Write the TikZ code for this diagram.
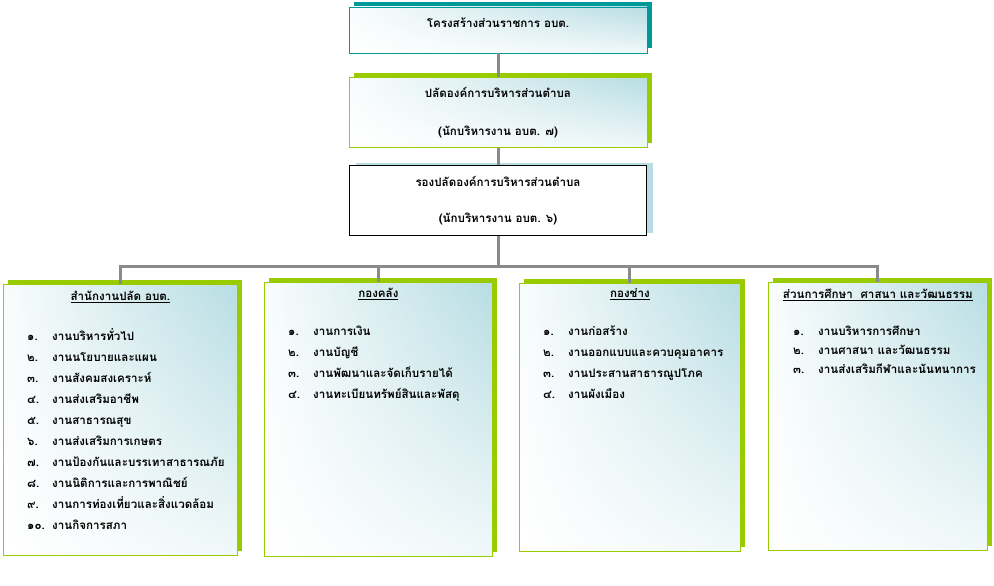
\documentclass[tikz,border=0pt]{standalone}
\usepackage{fontspec}
\newfontfamily\thaifont[Script=Thai]{Loma}
\usetikzlibrary{positioning,shadows,shadings}

\definecolor{tealshade}{HTML}{009999}
\definecolor{limegreen}{HTML}{99CC00}
\definecolor{paleblue}{HTML}{B7DDE3}
\definecolor{linegray}{HTML}{8A8A8A}

\newcommand{\job}[2]{\makebox[25pt][l]{#1}#2}

\begin{document}
\begin{tikzpicture}[
		x=1pt, y=-1pt,
		font=\thaifont\bfseries\fontsize{11.6}{21}\selectfont,
		fadefill/.style={upper right=paleblue, upper left=white!92!paleblue,
			lower left=white, lower right=white!80!paleblue},
		headbox/.style={draw, line width=0.8pt, inner sep=0pt,
			align=center, minimum width=298pt, minimum height=70pt},
		unitbox/.style={draw=limegreen, line width=0.8pt, inner sep=0pt,
			anchor=north west, fadefill,
			general shadow={shadow xshift=5pt, shadow yshift=4pt, fill=limegreen}},
		unithead/.style={inner sep=0pt},
		joblist/.style={inner sep=0pt, align=left, anchor=north west},
		connector/.style={draw=linegray, line width=3pt},
		]
		\useasboundingbox (0,0) rectangle (994,586);
		
		% top of the chart
		\node[headbox, draw=tealshade, fadefill, minimum height=46pt, text depth=14pt,
			general shadow={shadow xshift=5pt, shadow yshift=5pt, fill=tealshade}]
			(t1) at (498,30) {โครงสร้างส่วนราชการ อบต.};
		\node[headbox, draw=limegreen, fadefill, below=24pt of t1,
			general shadow={shadow xshift=5pt, shadow yshift=5pt, fill=limegreen}]
			(t2) {ปลัดองค์การบริหารส่วนตำบล\\[17pt](นักบริหารงาน อบต. ๗)};
		\node[headbox, draw=black, fill=white, minimum width=297pt, below=17pt of t2,
			general shadow={shadow xshift=6pt, shadow yshift=3pt, fill=paleblue}]
			(t3) {รองปลัดองค์การบริหารส่วนตำบล\\[15pt](นักบริหารงาน อบต. ๖)};
		
		% the four units
		\node[unitbox, minimum width=234pt, minimum height=271pt] (kA) at (3,284) {};
		\node[unitbox, minimum width=228pt, minimum height=274pt] (kB) at (264,282) {};
		\node[unitbox, minimum width=221pt, minimum height=268pt] (kC) at (519,283) {};
		\node[unitbox, minimum width=219pt, minimum height=268pt] (kD) at (768,282) {};
		
		\node[unithead] (hA) at ([shift={(0,13)}]kA.north) {\underline{สำนักงานปลัด อบต.}};
		\node[unithead] (hB) at ([shift={(0,12)}]kB.north) {\underline{กองคลัง}};
		\node[unithead] (hC) at ([shift={(0,11)}]kC.north) {\underline{กองช่าง}};
		\node[unithead] (hD) at ([shift={(0,13)}]kD.north) {\underline{ส่วนการศึกษา~~ศาสนา และวัฒนธรรม}};
		
		\node[joblist] (lA) at ([shift={(24,44)}]kA.north west)
		{\job{๑.}{งานบริหารทั่วไป}\\
			\job{๒.}{งานนโยบายและแผน}\\
			\job{๓.}{งานสังคมสงเคราะห์}\\
			\job{๔.}{งานส่งเสริมอาชีพ}\\
			\job{๕.}{งานสาธารณสุข}\\
			\job{๖.}{งานส่งเสริมการเกษตร}\\
			\job{๗.}{งานป้องกันและบรรเทาสาธารณภัย}\\
			\job{๘.}{งานนิติการและการพาณิชย์}\\
			\job{๙.}{งานการท่องเที่ยวและสิ่งแวดล้อม}\\
			\job{๑๐.}{งานกิจการสภา}};
		\node[joblist] (lB) at ([shift={(24,44)}]kB.north west)
		{\job{๑.}{งานการเงิน}\\
			\job{๒.}{งานบัญชี}\\
			\job{๓.}{งานพัฒนาและจัดเก็บรายได้}\\
			\job{๔.}{งานทะเบียนทรัพย์สินและพัสดุ}};
		\node[joblist] (lC) at ([shift={(24,43)}]kC.north west)
		{\job{๑.}{งานก่อสร้าง}\\
			\job{๒.}{งานออกแบบและควบคุมอาคาร}\\
			\job{๓.}{งานประสานสาธารณูปโภค}\\
			\job{๔.}{งานผังเมือง}};
		\node[joblist, font=\thaifont\bfseries\fontsize{11.6}{19}\selectfont]
		(lD) at ([shift={(25,44)}]kD.north west)
		{\job{๑.}{งานบริหารการศึกษา}\\
			\job{๒.}{งานศาสนา และวัฒนธรรม}\\
			\job{๓.}{งานส่งเสริมกีฬาและนันทนาการ}};
		
		% connectors
		\coordinate (bus) at (498,266);
		\draw[connector] (t1) -- (t2);
		\draw[connector] (t2) -- (t3);
		\draw[connector] (t3) -- (bus);
		\draw[connector] (kA.north) |- (kD.north |- bus) -- (kD.north);
		\draw[connector] (kB.north |- bus) -- (kB.north);
		\draw[connector] (kC.north |- bus) -- (kC.north);
		
	\end{tikzpicture}
\end{document}
